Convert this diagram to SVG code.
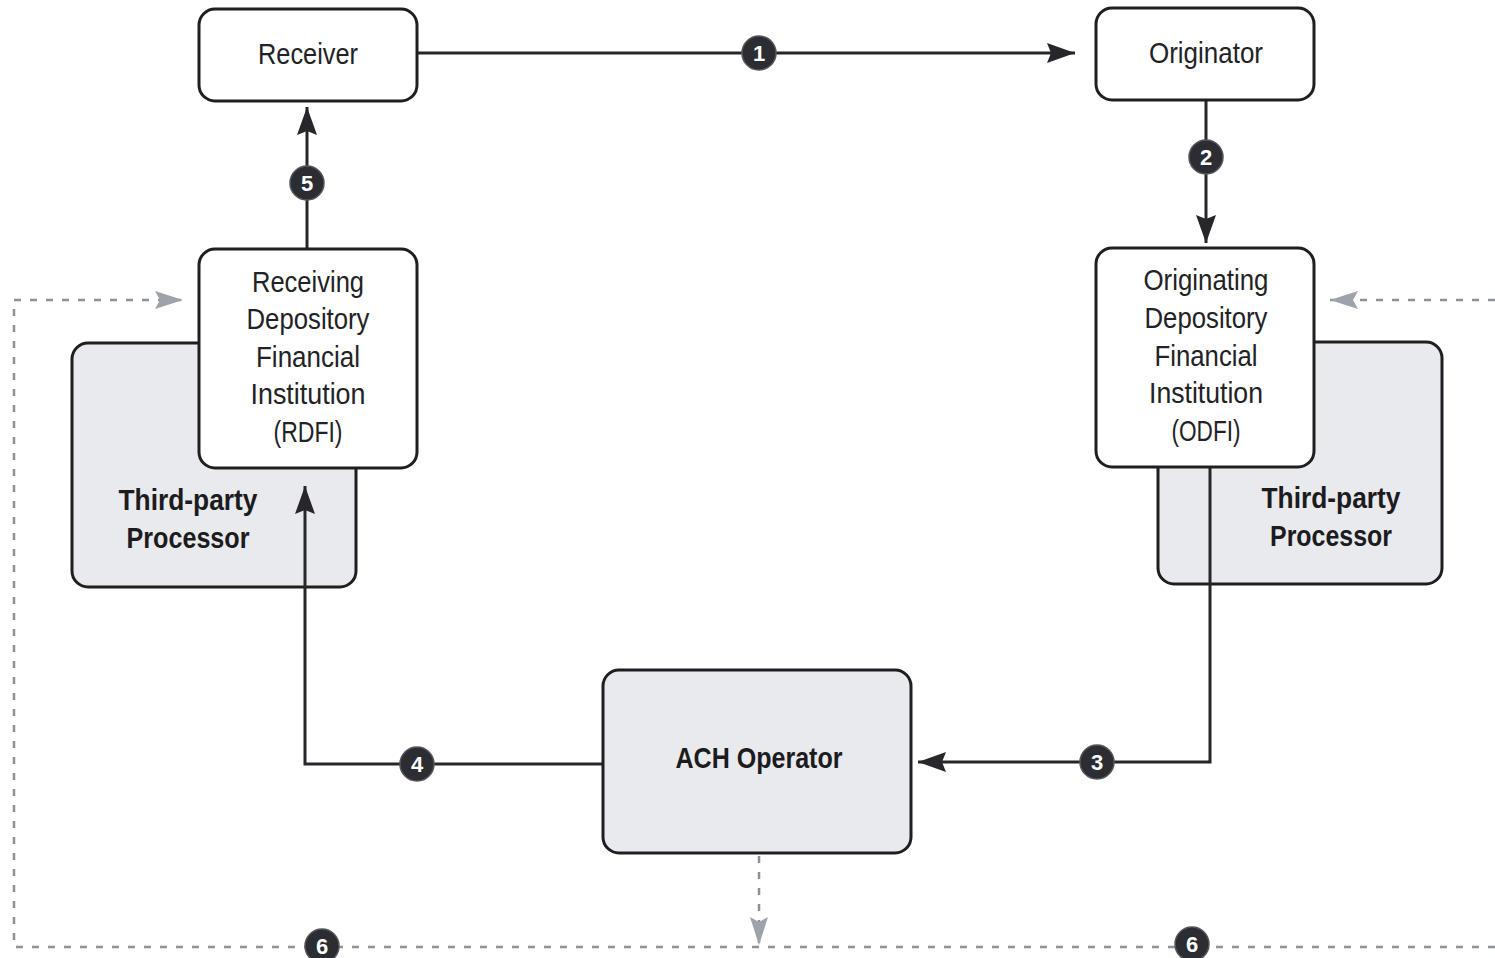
<svg xmlns="http://www.w3.org/2000/svg" width="1495" height="958" viewBox="0 0 1495 958">
  <defs>
    <style>
      .box { fill: #ffffff; stroke: #1f1f22; stroke-width: 3; }
      .shade { fill: #e9eaed; stroke: #1f1f22; stroke-width: 3; }
      .lbl { font-family: "Liberation Sans", Arial, sans-serif; font-size: 30px; fill: #222226; text-anchor: middle; }
      .blbl { font-family: "Liberation Sans", Arial, sans-serif; font-size: 30px; font-weight: bold; fill: #1c1c20; text-anchor: middle; }
      .flow { fill: none; stroke: #26262b; stroke-width: 3; }
      .dash { fill: none; stroke: #8d9198; stroke-width: 2.5; stroke-dasharray: 7 9; }
      .badge { fill: #2c2c33; stroke: #55555c; stroke-width: 1.5; }
      .num { font-family: "Liberation Sans", Arial, sans-serif; font-size: 22px; font-weight: bold; fill: #ffffff; text-anchor: middle; }
    </style>
    <marker id="arrow" viewBox="0 0 28 20" refX="28" refY="10" markerWidth="28" markerHeight="20" markerUnits="userSpaceOnUse" orient="auto">
      <path d="M0,0 L28,10 L0,20 L4,10 Z" fill="#26262b"/>
    </marker>
    <marker id="garrow" viewBox="0 0 28 18" refX="28" refY="9" markerWidth="28" markerHeight="18" markerUnits="userSpaceOnUse" orient="auto">
      <path d="M0,0 L28,9 L0,18 L5,9 Z" fill="#9ea3ab"/>
    </marker>
  </defs>

  <rect width="1495" height="958" fill="#ffffff"/>

  <!-- third-party processors sit behind the depository institutions -->
  <g id="tpp-left">
    <rect class="shade" x="72" y="343" width="284" height="244" rx="16"/>
    <text class="blbl" x="188" y="510" textLength="139" lengthAdjust="spacingAndGlyphs">Third-party</text>
    <text class="blbl" x="188" y="548" textLength="123" lengthAdjust="spacingAndGlyphs">Processor</text>
  </g>
  <g id="tpp-right">
    <rect class="shade" x="1158" y="342" width="284" height="242" rx="16"/>
    <text class="blbl" x="1331" y="508" textLength="139" lengthAdjust="spacingAndGlyphs">Third-party</text>
    <text class="blbl" x="1331" y="546" textLength="122" lengthAdjust="spacingAndGlyphs">Processor</text>
  </g>

  <!-- connectors -->
  <g id="connectors">
    <!-- 6: settlement, dashed -->
    <path class="dash" d="M759,856 V945" marker-end="url(#garrow)"/>
    <path class="dash" d="M1495,947 H14 V300 H183" marker-end="url(#garrow)"/>
    <path class="dash" d="M1495,300 H1330" marker-end="url(#garrow)"/>
    <!-- 1 -->
    <path class="flow" d="M417,53 H1075" marker-end="url(#arrow)"/>
    <!-- 2 -->
    <path class="flow" d="M1206,100 V243" marker-end="url(#arrow)"/>
    <!-- 3 -->
    <path class="flow" d="M1210,467 V762 H918" marker-end="url(#arrow)"/>
    <!-- 4 -->
    <path class="flow" d="M603,764 H305 V486" marker-end="url(#arrow)"/>
    <!-- 5 -->
    <path class="flow" d="M307,249 V107" marker-end="url(#arrow)"/>
  </g>

  <g id="receiver">
    <rect class="box" x="199" y="9" width="218" height="92" rx="16"/>
    <text class="lbl" x="308" y="64" textLength="100" lengthAdjust="spacingAndGlyphs">Receiver</text>
  </g>
  <g id="originator">
    <rect class="box" x="1096" y="8" width="218" height="92" rx="16"/>
    <text class="lbl" x="1206" y="63" textLength="114" lengthAdjust="spacingAndGlyphs">Originator</text>
  </g>
  <g id="rdfi">
    <rect class="box" x="199" y="249" width="218" height="219" rx="16"/>
    <text class="lbl" x="308" y="292" textLength="112" lengthAdjust="spacingAndGlyphs">Receiving</text>
    <text class="lbl" x="308" y="329" textLength="123" lengthAdjust="spacingAndGlyphs">Depository</text>
    <text class="lbl" x="308" y="367" textLength="104" lengthAdjust="spacingAndGlyphs">Financial</text>
    <text class="lbl" x="308" y="404" textLength="115" lengthAdjust="spacingAndGlyphs">Institution</text>
    <text class="lbl" x="308" y="442" textLength="69" lengthAdjust="spacingAndGlyphs">(RDFI)</text>
  </g>
  <g id="odfi">
    <rect class="box" x="1096" y="248" width="218" height="219" rx="16"/>
    <text class="lbl" x="1206" y="290" textLength="125" lengthAdjust="spacingAndGlyphs">Originating</text>
    <text class="lbl" x="1206" y="328" textLength="123" lengthAdjust="spacingAndGlyphs">Depository</text>
    <text class="lbl" x="1206" y="366" textLength="103" lengthAdjust="spacingAndGlyphs">Financial</text>
    <text class="lbl" x="1206" y="403" textLength="114" lengthAdjust="spacingAndGlyphs">Institution</text>
    <text class="lbl" x="1206" y="441" textLength="69" lengthAdjust="spacingAndGlyphs">(ODFI)</text>
  </g>
  <g id="ach-operator">
    <rect class="shade" x="603" y="670" width="308" height="183" rx="16"/>
    <text class="blbl" x="759" y="768" textLength="167" lengthAdjust="spacingAndGlyphs">ACH Operator</text>
  </g>

  <!-- step badges -->
  <g id="badges">
    <circle class="badge" cx="759" cy="53" r="17"/><text class="num" x="759" y="61">1</text>
    <circle class="badge" cx="1206" cy="157" r="17"/><text class="num" x="1206" y="165">2</text>
    <circle class="badge" cx="1097" cy="762" r="17"/><text class="num" x="1097" y="770">3</text>
    <circle class="badge" cx="417" cy="764" r="17"/><text class="num" x="417" y="772">4</text>
    <circle class="badge" cx="307" cy="183" r="17"/><text class="num" x="307" y="191">5</text>
    <circle class="badge" cx="322" cy="946" r="17"/><text class="num" x="322" y="954">6</text>
    <circle class="badge" cx="1192" cy="944" r="17"/><text class="num" x="1192" y="952">6</text>
  </g>
</svg>
